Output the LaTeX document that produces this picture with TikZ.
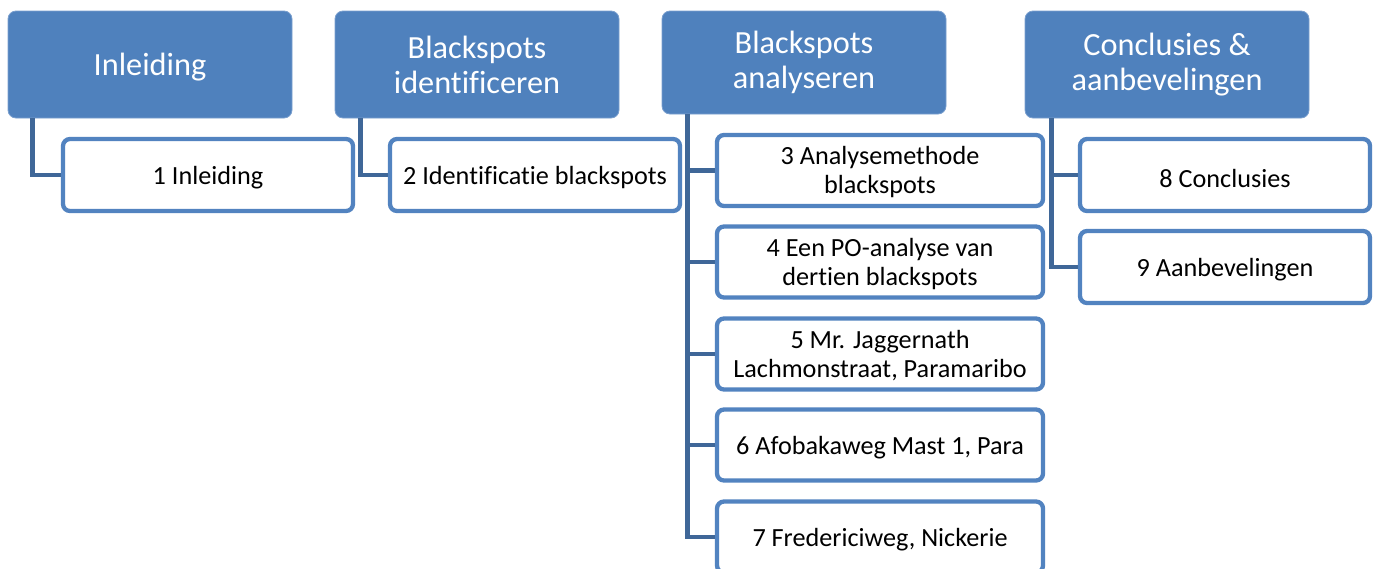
\documentclass[tikz,border=0pt]{standalone}
\usepackage{fontspec}
\setmainfont{Carlito}[Ligatures=NoCommon]
\definecolor{topfill}{HTML}{4F81BD}
\definecolor{topedge}{HTML}{7A9FCE}
\definecolor{childedge}{HTML}{5283C0}
\definecolor{linkcol}{HTML}{3F6798}
% labels sit a little below the geometric centre of their box
\newcommand\dropline[1]{\raisebox{-3pt}[\height][\depth]{#1}}
\newcommand\droptwo[2]{\raisebox{-3pt}[\height][\depth]{\begin{tabular}{@{}c@{}}#1\\#2\end{tabular}}}
\tikzset{
  topbox/.style={rectangle, rounded corners=8pt, fill=topfill, draw=topedge, line width=0.8pt,
    minimum width=284pt, minimum height=107pt, inner sep=0pt, align=center, text=white,
    font=\fontsize{32.3}{35}\selectfont},
  childbox/.style={rectangle, rounded corners=7pt, fill=white, draw=childedge, line width=4.3pt,
    minimum width=290pt, minimum height=72pt, inner sep=0pt, align=center, text=black,
    font=\fontsize{26.2}{29}\selectfont},
  widebox/.style={childbox, minimum width=326pt, minimum height=71pt},
  link/.style={draw=linkcol, line width=4.5pt}
}
\begin{document}
\begin{tikzpicture}[x=1pt,y=-1pt]
\useasboundingbox (0,0) rectangle (1376,568);

% chapter groups
\node[topbox] (p1) at (150,64.5) {\dropline{Inleiding}};
\node[topbox] (p2) at (477,64.5) {Blackspots\\identificeren};
\node[topbox, minimum height=103pt] (p3) at (804,62.5) {Blackspots\\analyseren};
\node[topbox] (p4) at (1167,64.5) {Conclusies \&\\aanbevelingen};

% chapters
\node[childbox] (c1) at (208,175) {\dropline{1 Inleiding}};
\node[childbox] (c2) at (535,175) {\dropline{2 Identificatie blackspots}};
\node[widebox] (c3) at (880,170.5) {\droptwo{3 Analysemethode}{blackspots}};
\node[widebox] (c4) at (880,262) {\droptwo{4 Een PO-analyse van}{dertien blackspots}};
\node[widebox] (c5) at (880,354) {\droptwo{5 Mr. Jaggernath}{Lachmonstraat, Paramaribo}};
\node[widebox] (c6) at (880,445) {\dropline{6 Afobakaweg Mast 1, Para}};
\node[widebox] (c7) at (880,537) {\dropline{7 Fredericiweg, Nickerie}};
\node[childbox] (c8) at (1225,175) {\dropline{8 Conclusies}};
\node[childbox] (c9) at (1225,267) {\dropline{9 Aanbevelingen}};

% tree connectors
\draw[link] ([xshift=25pt]p1.south west) |- (c1.west);
\draw[link] ([xshift=26pt]p2.south west) |- (c2.west);
\foreach \c in {c3,c4,c5,c6,c7}
  \draw[link] ([xshift=26pt]p3.south west) |- (\c.west);
\draw[link] ([xshift=27pt]p4.south west) |- (c8.west);
\draw[link] ([xshift=27pt]p4.south west) |- (c9.west);
\end{tikzpicture}
\end{document}
